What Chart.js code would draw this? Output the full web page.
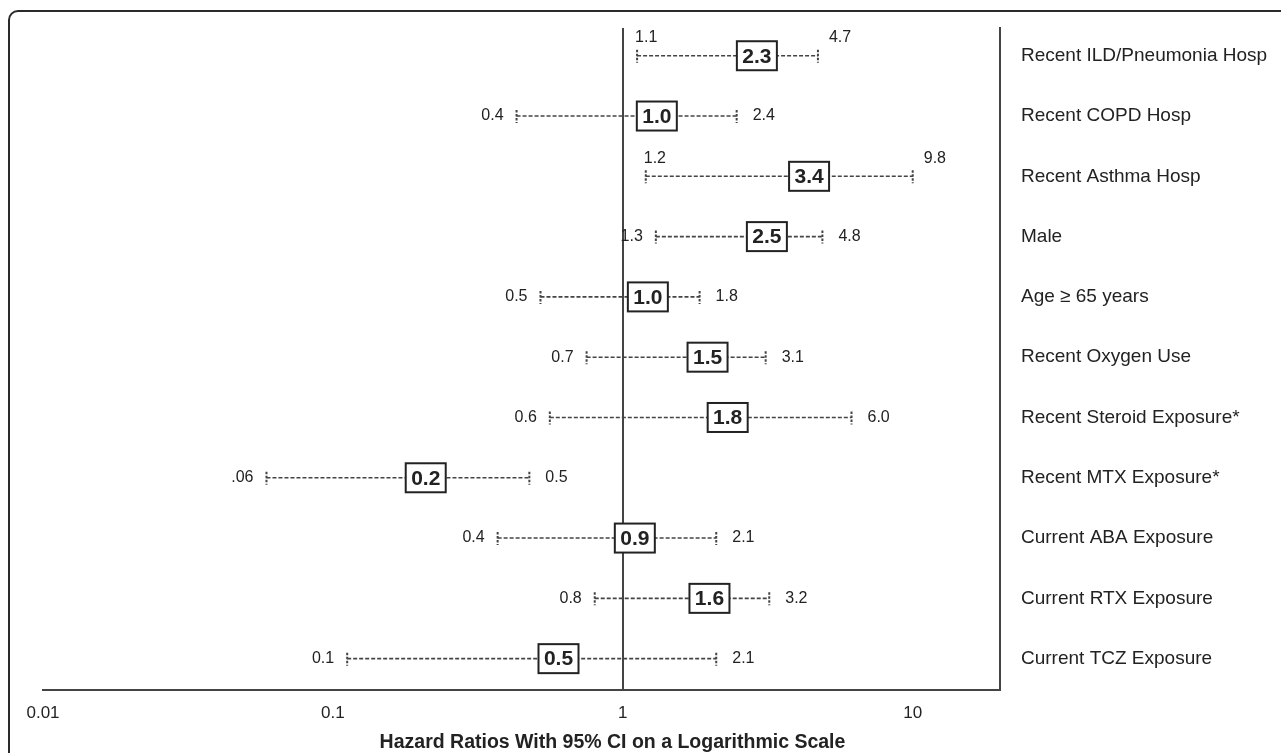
<!DOCTYPE html>
<html>
<head>
<meta charset="utf-8">
<title>Hazard ratios forest plot</title>
<script src="https://cdn.jsdelivr.net/npm/chart.js@4.4.1/dist/chart.umd.min.js"></script>
<style>
  html, body { margin: 0; padding: 0; background: #fff; overflow: hidden; }
  #frame {
    position: absolute; left: 8px; top: 10px; width: 1400px; height: 900px;
    border: 2px solid #2a2a2a; border-top-left-radius: 10px;
  }
  #chart { position: absolute; left: 0; top: 0; }
</style>
</head>
<body>
<div id="frame"></div>
<canvas id="chart" width="1281" height="753"></canvas>
<script>
// Rows, top to bottom
const rowNames = [
  'Recent ILD/Pneumonia Hosp',
  'Recent COPD Hosp',
  'Recent Asthma Hosp',
  'Male',
  'Age \u2265 65 years',
  'Recent Oxygen Use',
  'Recent Steroid Exposure*',
  'Recent MTX Exposure*',
  'Current ABA Exposure',
  'Current RTX Exposure',
  'Current TCZ Exposure'
];

// 95% CI ends, as placed on the log axis
const ciLow = [1.12, 0.43, 1.20, 1.30, 0.52, 0.75, 0.56, 0.059, 0.37, 0.80, 0.112];
const ciHigh = [4.71, 2.47, 10.0, 4.88, 1.84, 3.11, 6.15, 0.476, 2.10, 3.20, 2.10];

// Hazard ratio boxes, as placed on the log axis, and their printed values
const hrMarker = [2.90, 1.31, 4.39, 3.14, 1.22, 1.96, 2.30, 0.209, 1.10, 1.99, 0.60];
const hrText = ['2.3', '1.0', '3.4', '2.5', '1.0', '1.5', '1.8', '0.2', '0.9', '1.6', '0.5'];

// Printed CI values
const lowText = ['1.1', '0.4', '1.2', '1.3', '0.5', '0.7', '0.6', '.06', '0.4', '0.8', '0.1'];
const highText = ['4.7', '2.4', '9.8', '4.8', '1.8', '3.1', '6.0', '0.5', '2.1', '3.2', '2.1'];

// x axis
const xTickValues = [0.01, 0.1, 1, 10];
const xTickLabels = ['0.01', '0.1', '1', '10'];
const xTitle = 'Hazard Ratios With 95% CI on a Logarithmic Scale';

const FONT = '"Liberation Sans", Arial, Helvetica, sans-serif';
const INK = '#222';
const LINE = '#444';

// rows whose CI numbers sit above the line
const raisedRows = [0, 2];

const forestMarks = {
  id: 'forestMarks',
  afterDatasetsDraw(chart) {
    const { ctx, scales: { x, y } } = chart;
    ctx.save();
    rowNames.forEach((_, i) => {
      const yPix = y.getPixelForValue(i);
      const xLo = x.getPixelForValue(ciLow[i]);
      const xHi = x.getPixelForValue(ciHigh[i]);

      // dotted end caps
      ctx.strokeStyle = LINE;
      ctx.lineWidth = 2;
      ctx.setLineDash([2.5, 1.5]);
      [xLo, xHi].forEach(px => {
        ctx.beginPath();
        ctx.moveTo(px, yPix - 6);
        ctx.lineTo(px, yPix + 7);
        ctx.stroke();
      });
      ctx.setLineDash([]);

      // boxed estimate
      const xHr = x.getPixelForValue(hrMarker[i]);
      ctx.fillStyle = '#fff';
      ctx.fillRect(xHr - 20, yPix - 14.5, 40, 29);
      ctx.strokeStyle = INK;
      ctx.lineWidth = 2;
      ctx.strokeRect(xHr - 20, yPix - 14.5, 40, 29);
      ctx.fillStyle = INK;
      ctx.font = 'bold 21px ' + FONT;
      ctx.textAlign = 'center';
      ctx.textBaseline = 'middle';
      ctx.fillText(hrText[i], xHr, yPix + 1);

      // CI numbers
      ctx.font = '16px ' + FONT;
      if (raisedRows.includes(i)) {
        ctx.textAlign = 'left';
        ctx.fillText(lowText[i], xLo - 2, yPix - 18);
        ctx.fillText(highText[i], xHi + 11, yPix - 18);
      } else {
        ctx.textAlign = 'right';
        ctx.fillText(lowText[i], xLo - 13, yPix);
        ctx.textAlign = 'left';
        ctx.fillText(highText[i], xHi + 16, yPix);
      }
    });
    ctx.restore();
  },
  afterDraw(chart) {
    const { ctx } = chart;
    ctx.save();
    ctx.fillStyle = INK;
    ctx.font = 'bold 19.5px ' + FONT;
    ctx.textAlign = 'center';
    ctx.textBaseline = 'middle';
    ctx.fillText(xTitle, chart.width / 2 - 28, 743);
    ctx.restore();
  }
};

const ciDatasets = rowNames.map((name, i) => ({
  label: name,
  data: [{ x: ciLow[i], y: i }, { x: ciHigh[i], y: i }],
  showLine: true,
  borderColor: LINE,
  borderWidth: 1.6,
  borderDash: [4, 2],
  pointRadius: 0
}));

new Chart(document.getElementById('chart'), {
  type: 'scatter',
  data: { datasets: ciDatasets },
  options: {
    responsive: false,
    animation: false,
    layout: { padding: { left: 43, top: 28, right: 0, bottom: 0 } },
    plugins: { legend: { display: false }, tooltip: { enabled: false } },
    scales: {
      x: {
        type: 'logarithmic',
        position: 'bottom',
        min: 0.01,
        max: 20,
        afterBuildTicks: s => { s.ticks = xTickValues.map(v => ({ value: v })); },
        afterFit: s => { s.height = 63; s.paddingLeft = 0; s.paddingRight = 0; },
        grid: {
          color: c => (c.tick && c.tick.value === 1 ? LINE : 'rgba(0,0,0,0)'),
          lineWidth: 2,
          drawTicks: false
        },
        border: { display: true, color: LINE, width: 2 },
        ticks: {
          padding: 13,
          autoSkip: false,
          maxRotation: 0,
          color: INK,
          font: { family: FONT, size: 17 },
          callback: (v, i) => xTickLabels[i]
        }
      },
      y: {
        type: 'linear',
        position: 'right',
        reverse: true,
        min: -0.46,
        max: 10.52,
        afterBuildTicks: s => { s.ticks = rowNames.map((_, i) => ({ value: i })); },
        afterFit: s => { s.width = 281; s.paddingTop = 0; s.paddingBottom = 0; },
        grid: { color: 'rgba(0,0,0,0)', drawTicks: false },
        border: { display: true, color: LINE, width: 2 },
        ticks: {
          padding: 21,
          autoSkip: false,
          color: INK,
          font: { family: FONT, size: 19 },
          callback: v => rowNames[v]
        }
      }
    }
  },
  plugins: [forestMarks]
});
</script>
</body>
</html>
